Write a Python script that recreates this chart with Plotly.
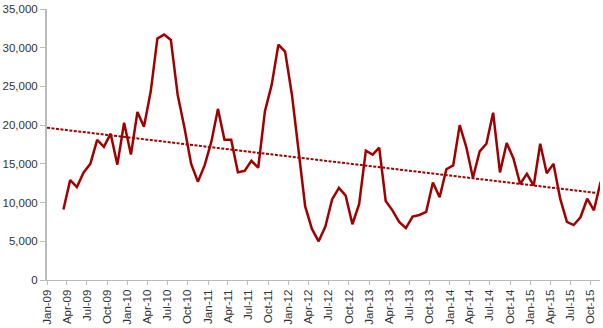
import numpy as np
import pandas as pd
import plotly.graph_objects as go

# Monthly series, March 2009 through November 2015
start_month = "2009-03-01"
end_month = "2015-11-01"
values = [
    9100, 12900, 12000, 13900, 15000, 18100, 17200, 18900, 14900, 20300,                 # 2009 (Mar-Dec)
    16200, 21700, 19800, 24300, 31200, 31700, 31000, 23900, 19700, 15000, 12700, 14800,  # 2010
    17900, 22100, 18100, 18100, 13900, 14100, 15400, 14500, 21800, 25200, 30400, 29500,  # 2011
    23900, 16700, 9500, 6600, 5000, 6900, 10400, 11900, 10900, 7200, 9800, 16700,        # 2012
    16200, 17100, 10200, 9000, 7500, 6700, 8200, 8400, 8800, 12600, 10700, 14300,        # 2013
    14800, 20000, 17200, 13200, 16600, 17600, 21600, 13900, 17700, 15700, 12400, 13700,  # 2014
    12200, 17600, 13800, 15000, 10500, 7500, 7100, 8100, 10500, 9000, 12700,             # 2015 (Jan-Nov)
]

axis_start = "2009-01-01"
axis_end = "2015-11-13"
trend_end = "2015-10-27"

LINE_COLOR = "#A00000"
AXIS_COLOR = "#BBBBBB"
TEXT_COLOR = "#333333"
FONT = "Liberation Sans, Arial, sans-serif"

months = pd.date_range(start_month, end_month, freq="MS")
# plot each month at its midpoint
mid = months + (months + pd.offsets.MonthBegin(1) - months) / 2

# least-squares linear trend over time
t_days = (mid - pd.Timestamp("2009-01-01")) / pd.Timedelta(days=1)
slope, intercept = np.polyfit(t_days.to_numpy(dtype=float), np.array(values, dtype=float), 1)
trend_x = pd.to_datetime([axis_start, trend_end])
trend_t = (trend_x - pd.Timestamp("2009-01-01")) / pd.Timedelta(days=1)
trend_y = intercept + slope * trend_t.to_numpy(dtype=float)

fig = go.Figure()
fig.add_trace(go.Scatter(
    x=trend_x, y=trend_y, mode="lines",
    line=dict(color=LINE_COLOR, width=2, dash="3px,1.5px"),
    hoverinfo="skip", showlegend=False,
))
fig.add_trace(go.Scatter(
    x=mid, y=values, mode="lines",
    line=dict(color=LINE_COLOR, width=2.5),
    showlegend=False,
))

fig.update_layout(
    width=603, height=328,
    margin=dict(l=46, r=3, t=7, b=46),
    plot_bgcolor="white", paper_bgcolor="white",
    font=dict(family=FONT, size=11.5, color=TEXT_COLOR),
)
fig.update_xaxes(
    type="date",
    range=[axis_start, axis_end],
    tick0=axis_start, dtick="M3", tickformat="%b-%y",
    tickangle=-90,
    showgrid=False, zeroline=False,
    showline=True, linecolor=AXIS_COLOR, linewidth=1,
    ticks="outside", ticklen=4, tickcolor=AXIS_COLOR, tickwidth=1,
)
fig.update_yaxes(
    range=[0, 35000], dtick=5000, tickformat=",",
    showgrid=False, zeroline=False,
    showline=True, linecolor=AXIS_COLOR, linewidth=2,
    ticks="outside", ticklen=5, tickcolor=AXIS_COLOR, tickwidth=1,
)

fig.write_html("out.html")
